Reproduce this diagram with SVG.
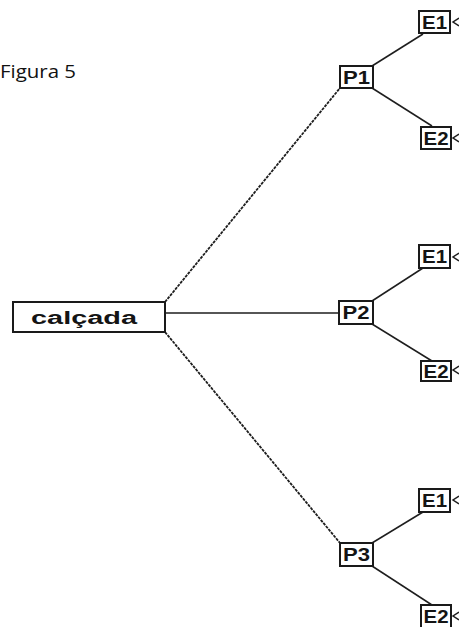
<svg xmlns="http://www.w3.org/2000/svg" width="459" height="627" viewBox="0 0 459 627">
  <style>
    .box { fill: #ffffff; stroke: #1a1a1a; stroke-width: 2; }
    .lbl { font-family: "Liberation Sans", Arial, sans-serif; font-weight: bold; fill: #141414; text-anchor: middle; }
    .small { font-size: 19px; }
    .edge { stroke: #1e1e1e; stroke-width: 1.5; fill: none; }
    .dots { stroke-width: 1.8; stroke-dasharray: 3 1; }
    .tip { stroke: #1e1e1e; stroke-width: 1.5; fill: none; }
  </style>
  <rect width="459" height="627" fill="#ffffff"/>

  <text x="0" y="78" font-family="Open Sans, Liberation Sans, sans-serif" font-size="19" fill="#111111" textLength="76" lengthAdjust="spacingAndGlyphs">Figura 5</text>

  <g id="connectors">
    <line class="edge dots" x1="165" y1="302" x2="340" y2="88"/>
    <line class="edge" x1="165" y1="313" x2="339" y2="313"/>
    <line class="edge dots" x1="165" y1="332" x2="340" y2="543"/>

    <line class="edge" x1="372" y1="66" x2="423" y2="34"/>
    <line class="edge" x1="372" y1="88" x2="432" y2="126"/>
    <line class="edge" x1="372" y1="301" x2="423" y2="268"/>
    <line class="edge" x1="372" y1="324" x2="432" y2="361"/>
    <line class="edge" x1="372" y1="543" x2="423" y2="512"/>
    <line class="edge" x1="372" y1="566" x2="432" y2="605"/>

    <polyline class="tip" points="459,18 453,22 459,26"/>
    <polyline class="tip" points="459,134 453,138 459,142"/>
    <polyline class="tip" points="459,253 453,257 459,261"/>
    <polyline class="tip" points="459,366 453,370 459,374"/>
    <polyline class="tip" points="459,496 453,500 459,504"/>
    <polyline class="tip" points="459,612 453,616 459,620"/>
  </g>

  <g id="calcada">
    <rect class="box" x="13" y="302" width="152" height="30"/>
    <text class="lbl" x="84" y="324" font-size="18" font-family="DejaVu Sans, sans-serif" textLength="106" lengthAdjust="spacingAndGlyphs">calçada</text>
  </g>

  <g id="p1">
    <rect class="box" x="340" y="66" width="33" height="22"/>
    <text class="lbl small" x="356.5" y="84" textLength="27" lengthAdjust="spacingAndGlyphs">P1</text>
  </g>
  <g id="p1-e1">
    <rect class="box" x="419" y="11" width="31" height="22"/>
    <text class="lbl small" x="434.5" y="29" textLength="25" lengthAdjust="spacingAndGlyphs">E1</text>
  </g>
  <g id="p1-e2">
    <rect class="box" x="421" y="127" width="30" height="22"/>
    <text class="lbl small" x="436" y="145" textLength="25" lengthAdjust="spacingAndGlyphs">E2</text>
  </g>

  <g id="p2">
    <rect class="box" x="339" y="301" width="34" height="23"/>
    <text class="lbl small" x="356" y="319" textLength="27" lengthAdjust="spacingAndGlyphs">P2</text>
  </g>
  <g id="p2-e1">
    <rect class="box" x="419" y="245" width="31" height="23"/>
    <text class="lbl small" x="434.5" y="263" textLength="25" lengthAdjust="spacingAndGlyphs">E1</text>
  </g>
  <g id="p2-e2">
    <rect class="box" x="421" y="361" width="30" height="20"/>
    <text class="lbl small" x="436" y="378" textLength="25" lengthAdjust="spacingAndGlyphs">E2</text>
  </g>

  <g id="p3">
    <rect class="box" x="340" y="543" width="33" height="23"/>
    <text class="lbl small" x="356.5" y="561" textLength="27" lengthAdjust="spacingAndGlyphs">P3</text>
  </g>
  <g id="p3-e1">
    <rect class="box" x="419" y="489" width="31" height="23"/>
    <text class="lbl small" x="434.5" y="507" textLength="25" lengthAdjust="spacingAndGlyphs">E1</text>
  </g>
  <g id="p3-e2">
    <rect class="box" x="421" y="605" width="30" height="23"/>
    <text class="lbl small" x="436" y="623" textLength="25" lengthAdjust="spacingAndGlyphs">E2</text>
  </g>
</svg>
